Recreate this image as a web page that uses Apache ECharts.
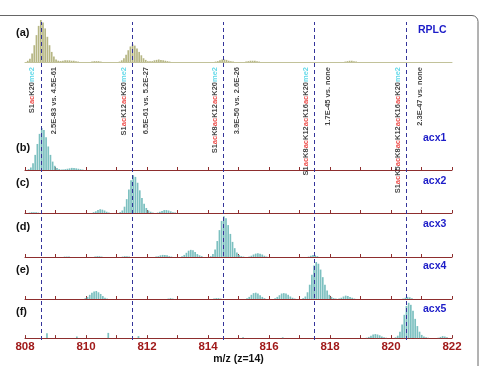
<!DOCTYPE html>
<html>
<head>
<meta charset="utf-8">
<script src="https://cdn.jsdelivr.net/npm/echarts@6/dist/echarts.min.js"></script>
<style>
    html, body { margin: 0; padding: 0; background: #fff; }
    #chart { width: 480px; height: 366px; }
</style>
</head>
<body>
<div id="chart"></div>
<script>
// isotope spacing at charge 14
const isoStep = 1 / 14

// clusters: [m/z of first isotope, relative intensities]
const rplcPeaks = [
    [808.09, [3, 8, 20, 40, 64, 86, 100, 94, 80, 60, 40, 24, 13, 6, 3, 1]],
    [809.10, [1, 2, 3, 4, 4, 4, 3, 3, 2, 1]],
    [810.20, [1, 2, 2, 2, 1]],
    [811.10, [1, 4, 9, 17, 28, 37, 42, 39, 32, 24, 16, 9, 5, 2, 1]],
    [812.10, [1, 2, 4, 5, 6, 5, 4, 3, 2, 1]],
    [814.25, [1, 2, 4, 6, 6, 5, 3, 2, 1]],
    [815.25, [1, 2, 3, 3, 3, 2, 1]],
    [818.50, [1, 2, 3, 3, 2, 1]]
]
const acx1Peaks = [
    [808.12, [2, 6, 16, 36, 62, 86, 100, 95, 78, 56, 36, 20, 10, 5, 2, 1]],
    [809.25, [1, 2, 3, 4, 5, 5, 4, 3, 2, 1]]
]
const acx2Peaks = [
    [808.15, [1, 2, 2, 2, 1]],
    [810.25, [2, 4, 7, 9, 8, 6, 3, 1]],
    [811.12, [2, 6, 15, 33, 56, 78, 90, 86, 72, 54, 36, 22, 12, 6, 3, 1]],
    [812.35, [1, 3, 5, 7, 7, 6, 4, 2, 1]]
]
const acx3Peaks = [
    [809.30, [1, 1, 1]],
    [810.30, [1, 2, 2, 1]],
    [811.20, [1, 2, 2, 1]],
    [812.30, [1, 2, 4, 5, 5, 4, 2, 1]],
    [813.15, [2, 5, 10, 15, 17, 16, 12, 7, 4, 2]],
    [814.09, [2, 7, 18, 38, 64, 86, 97, 92, 76, 55, 36, 21, 11, 5, 2, 1]],
    [815.35, [1, 3, 6, 8, 9, 8, 6, 3, 1]],
    [817.30, [1, 3, 5, 4, 2]]
]
const acx4Peaks = [
    [809.98, [2, 5, 10, 15, 18, 19, 16, 12, 7, 3, 1]],
    [812.70, [1, 2, 1]],
    [814.20, [1, 2, 2, 1]],
    [815.28, [2, 5, 10, 14, 15, 13, 9, 5, 2]],
    [816.20, [2, 5, 9, 13, 14, 13, 10, 6, 3, 1]],
    [817.12, [2, 6, 16, 34, 58, 80, 88, 84, 70, 52, 34, 20, 10, 5, 2, 1]],
    [818.30, [1, 3, 6, 8, 7, 5, 3, 1]],
    [820.40, [1, 3, 5, 4, 2]]
]
const acx5Peaks = [
    [808.72, [12]],
    [809.70, [4]],
    [810.73, [13]],
    [811.72, [5]],
    [815.15, [2]],
    [816.45, [2]],
    [819.20, [1, 3, 6, 9, 10, 9, 7, 4, 2, 1]],
    [820.15, [2, 6, 16, 34, 58, 80, 88, 83, 68, 48, 30, 16, 8, 4, 2, 1]],
    [821.55, [1, 3, 5, 4, 2]]
]

const panelNames = ['RPLC', 'acx1', 'acx2', 'acx3', 'acx4', 'acx5']
const panelTags = ['(a)', '(b)', '(c)', '(d)', '(e)', '(f)']

// m/z of the dashed guide lines and their annotations
const guideMz = [808.52, 811.53, 814.51, 817.49, 820.51]
const peptideNames = [
    'S1acK20me2',
    'S1acK12acK20me2',
    'S1acK8acK12acK20me2',
    'S1acK8acK12acK16acK20me2',
    'S1acK5acK8acK12acK16acK20me2'
]
const pValueTexts = [
    '2.5E-83 vs. 4.5E-61',
    '6.5E-61 vs. 5.2E-27',
    '3.9E-50 vs. 2.6E-26',
    '1.7E-45 vs. none',
    '2.3E-47 vs. none'
]

const allPeaks = [rplcPeaks, acx1Peaks, acx2Peaks, acx3Peaks, acx4Peaks, acx5Peaks]

function toBars(clusters) {
    let out = []
    clusters.forEach(([start, vals]) => {
        vals.forEach((v, i) => out.push([start + i * isoStep, v]))
    })
    return out
}

const FONT = 'Arial, "Liberation Sans", sans-serif'
const baselines = [62, 170, 213, 257, 299, 340]
const tagTops = [27, 142, 177, 221, 264, 306]
const nameTops = [25, 133, 176, 219, 261, 304]
const panelH = 42

let grids = []
let xAxes = []
let yAxes = []
let series = []
let titles = []

baselines.forEach((b, i) => {
    grids.push({ left: 25, right: 28, top: b - panelH, height: panelH })
    xAxes.push({
        gridIndex: i,
        type: 'value',
        min: 808,
        max: 822,
        interval: 1,
        axisLine: {
            show: true,
            lineStyle: { color: i === 0 ? '#c2c29a' : '#8e2e2e', width: 1 }
        },
        axisTick: {
            show: i > 0,
            inside: true,
            length: 3,
            lineStyle: { color: '#8e2e2e' }
        },
        axisLabel: {
            show: i === 5,
            margin: 3,
            formatter: v => (v % 2 === 0 ? v : ''),
            color: '#a01a1a',
            fontWeight: 'bold',
            fontSize: 11.5,
            fontFamily: FONT
        },
        splitLine: { show: false },
        name: i === 5 ? 'm/z (z=14)' : '',
        nameLocation: 'middle',
        nameGap: 15,
        nameTextStyle: { color: '#111', fontWeight: 'bold', fontSize: 10.5, fontFamily: FONT }
    })
    yAxes.push({ gridIndex: i, type: 'value', min: 0, max: 100, show: false })
    series.push({
        type: 'bar',
        xAxisIndex: i,
        yAxisIndex: i,
        barWidth: 1.7,
        data: toBars(allPeaks[i]),
        itemStyle: { color: i === 0 ? '#b6b684' : '#7cc0c0' },
        silent: true
    })
    titles.push({
        text: panelTags[i], left: 16, top: tagTops[i], padding: 0,
        textStyle: { color: '#111', fontWeight: 'bold', fontSize: 11, fontFamily: FONT }
    })
    titles.push({
        text: panelNames[i], left: i === 0 ? 418 : 423, top: nameTops[i], padding: 0,
        textStyle: { color: '#1c1cc8', fontWeight: 'bold', fontSize: 10.5, fontFamily: FONT }
    })
})

// overlay grid for the dashed guides (6) and one for the rotated notes (7)
grids.push({ left: 25, right: 28, top: 22, bottom: 26 })
grids.push({ left: 25, right: 28, top: 67, height: 100 })
;[6, 7].forEach(g => {
    xAxes.push({ gridIndex: g, type: 'value', min: 808, max: 822, show: false })
    yAxes.push({ gridIndex: g, type: 'value', min: 0, max: 1, show: false })
})

series.push({
    type: 'line',
    xAxisIndex: 6,
    yAxisIndex: 6,
    data: [],
    markLine: {
        silent: true,
        symbol: ['none', 'none'],
        label: { show: false },
        lineStyle: { type: [4, 3], color: '#34349a', width: 1 },
        data: guideMz.map(v => ({ xAxis: v }))
    }
})

const noteFont = { fontSize: 7.5, fontWeight: 'bold', fontFamily: FONT }
function richName(s) {
    return s.replace(/ac/g, '{r|ac}').replace(/me2/g, '{c|me2}')
}

series.push({
    type: 'scatter',
    xAxisIndex: 7,
    yAxisIndex: 7,
    symbolSize: 1,
    itemStyle: { color: 'rgba(0,0,0,0)' },
    silent: true,
    data: guideMz.map((v, i) => ({ value: [v, 1], name: peptideNames[i] })),
    label: {
        show: true,
        position: 'inside',
        rotate: 90,
        align: 'right',
        verticalAlign: 'middle',
        offset: [0, -9],
        formatter: p => richName(p.name),
        color: '#111',
        ...noteFont,
        rich: {
            r: { color: '#e8221e', ...noteFont },
            c: { color: '#3ccfe4', ...noteFont }
        }
    }
})
series.push({
    type: 'scatter',
    xAxisIndex: 7,
    yAxisIndex: 7,
    symbolSize: 1,
    itemStyle: { color: 'rgba(0,0,0,0)' },
    silent: true,
    data: guideMz.map((v, i) => ({ value: [v, 1], name: pValueTexts[i] })),
    label: {
        show: true,
        position: 'inside',
        rotate: 90,
        align: 'right',
        verticalAlign: 'middle',
        offset: [0, 13],
        formatter: p => p.name,
        color: '#111',
        ...noteFont
    }
})

const chart = echarts.init(document.getElementById('chart'))
chart.setOption({
    animation: false,
    backgroundColor: '#fff',
    title: titles,
    grid: grids,
    xAxis: xAxes,
    yAxis: yAxes,
    series: series,
    graphic: [{
        type: 'rect',
        silent: true,
        shape: { x: -6, y: 15.5, width: 484, height: 360, r: 6 },
        style: { fill: 'none', stroke: '#666', lineWidth: 1 }
    }]
})
</script>
</body>
</html>
